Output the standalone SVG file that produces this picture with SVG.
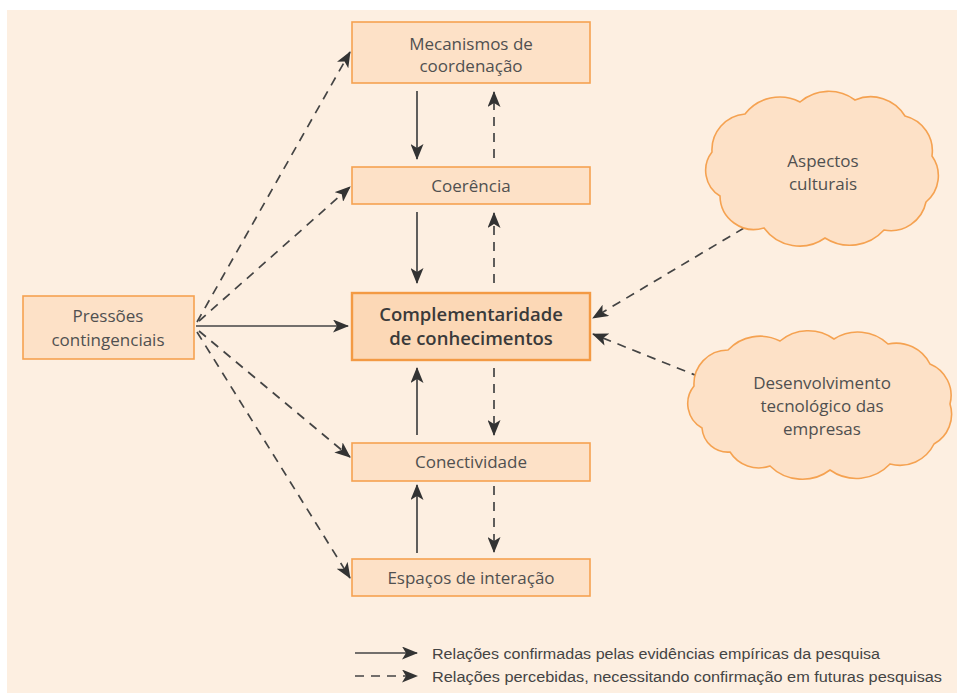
<svg xmlns="http://www.w3.org/2000/svg" width="957" height="693" viewBox="0 0 957 693">
<defs>
<marker id="ah" markerUnits="userSpaceOnUse" markerWidth="16" markerHeight="13" viewBox="0 0 16 13" refX="15" refY="6.5" orient="auto">
<path d="M0,0 L16,6.5 L0,13 L4,6.5 z" fill="#333"/>
</marker>
</defs>
<style>
.box{fill:#fde1c7;stroke:#f5a251;stroke-width:1.6}
.main{fill:#fcd8b6;stroke:#f39a44;stroke-width:2.4}
.cloud{fill:#fde1c7;stroke:#f5a251;stroke-width:1.6}
.t{font-family:"Open Sans","Noto Sans",sans-serif;font-size:17px;fill:#505050;text-anchor:middle}
.tb{font-family:"Open Sans","Noto Sans",sans-serif;font-size:18.5px;font-weight:600;fill:#3a3a3a;text-anchor:middle}
.lg{font-family:"Liberation Sans Narrow","Liberation Sans",sans-serif;font-size:15.5px;fill:#444}
.s{stroke:#444;stroke-width:1.7;fill:none;marker-end:url(#ah)}
.d{stroke:#444;stroke-width:1.7;fill:none;stroke-dasharray:9 7;marker-end:url(#ah)}
</style>
<rect x="0" y="0" width="957" height="693" fill="#ffffff"/>
<rect x="7" y="10" width="950" height="683" fill="#fdefe1"/>

<g id="connectors">
<line class="s" x1="417" y1="91" x2="417" y2="159"/>
<line class="d" x1="494" y1="158" x2="494" y2="92"/>
<line class="s" x1="417" y1="212" x2="417" y2="283"/>
<line class="d" x1="494" y1="283" x2="494" y2="213"/>
<line class="s" x1="417" y1="435" x2="417" y2="368"/>
<line class="d" x1="494" y1="368" x2="494" y2="435"/>
<line class="s" x1="417" y1="553" x2="417" y2="485"/>
<line class="d" x1="494" y1="486" x2="494" y2="552"/>
<line class="s" x1="196" y1="326" x2="348" y2="326"/>
<line class="d" x1="197" y1="322" x2="350" y2="52"/>
<line class="d" x1="199" y1="321" x2="350" y2="187"/>
<line class="d" x1="199" y1="331" x2="350" y2="457"/>
<line class="d" x1="197" y1="332" x2="350" y2="578"/>
<line class="d" x1="744" y1="228" x2="593" y2="318"/>
<line class="d" x1="700" y1="377" x2="593" y2="334"/>
</g>

<g id="n-mecanismos">
<rect class="box" x="352" y="22" width="238" height="61"/>
<text class="t" x="471" y="50">Mecanismos de</text>
<text class="t" x="471" y="72">coordenação</text>
</g>
<g id="n-coerencia">
<rect class="box" x="352" y="167" width="238" height="37"/>
<text class="t" x="471" y="192">Coerência</text>
</g>
<g id="n-complementaridade">
<rect class="main" x="352" y="293" width="238" height="67"/>
<text class="tb" x="471" y="321">Complementaridade</text>
<text class="tb" x="471" y="345">de conhecimentos</text>
</g>
<g id="n-conectividade">
<rect class="box" x="352" y="443" width="238" height="38"/>
<text class="t" x="471" y="468">Conectividade</text>
</g>
<g id="n-espacos">
<rect class="box" x="352" y="559" width="238" height="37"/>
<text class="t" x="471" y="584">Espaços de interação</text>
</g>
<g id="n-pressoes">
<rect class="box" x="23" y="296" width="171" height="63"/>
<text class="t" x="108" y="322">Pressões</text>
<text class="t" x="108" y="346">contingenciais</text>
</g>
<g id="n-aspectos">
<path class="cloud" d="M720,196 A30,30 0 0 1 712,152 A36,36 0 0 1 745,114 A44,44 0 0 1 800,102 A44,44 0 0 1 855,100 A40,40 0 0 1 905,116 A36,36 0 0 1 932,156 A34,34 0 0 1 926,202 A36,36 0 0 1 884,230 A46,46 0 0 1 825,238 A44,44 0 0 1 764,228 A34,34 0 0 1 720,196 Z"/>
<text class="t" x="823" y="167">Aspectos</text>
<text class="t" x="823" y="190">culturais</text>
</g>
<g id="n-desenvolvimento">
<path class="cloud" d="M702,428 A28,28 0 0 1 694,386 A34,34 0 0 1 728,350 A44,44 0 0 1 780,341 A44,44 0 0 1 834,339 A44,44 0 0 1 888,344 A38,38 0 0 1 930,364 A34,34 0 0 1 950,404 A34,34 0 0 1 934,444 A38,38 0 0 1 890,464 A46,46 0 0 1 830,470 A46,46 0 0 1 770,466 A34,34 0 0 1 730,452 A26,26 0 0 1 702,428 Z"/>
<text class="t" x="822" y="389">Desenvolvimento</text>
<text class="t" x="822" y="412">tecnológico das</text>
<text class="t" x="822" y="435">empresas</text>
</g>

<g id="legend">
<line class="s" x1="355" y1="653" x2="417" y2="653"/>
<line class="d" x1="355" y1="676" x2="417" y2="676" stroke-dasharray="10 9"/>
<text class="lg" x="432" y="659" textLength="448" lengthAdjust="spacingAndGlyphs">Relações confirmadas pelas evidências empíricas da pesquisa</text>
<text class="lg" x="432" y="682" textLength="510" lengthAdjust="spacingAndGlyphs">Relações percebidas, necessitando confirmação em futuras pesquisas</text>
</g>
</svg>
